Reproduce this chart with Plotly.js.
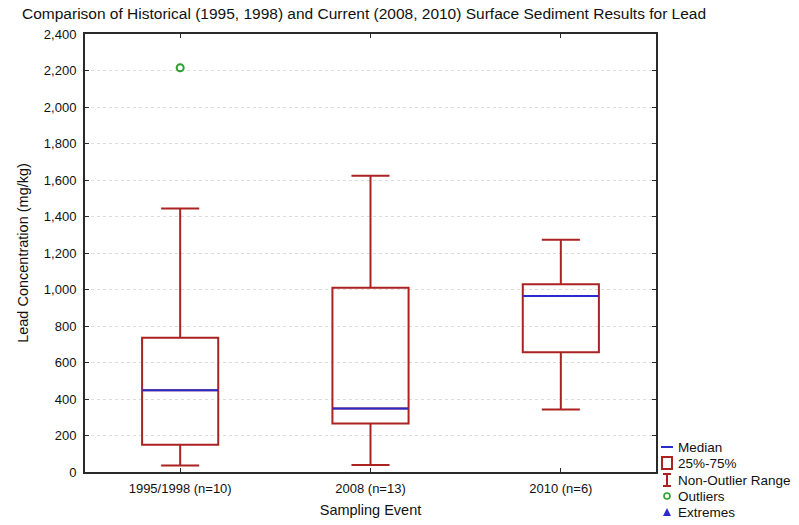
<!DOCTYPE html>
<html><head><meta charset="utf-8">
<script src="https://cdn.plot.ly/plotly-3.0.1.min.js"></script>
<style>html,body{margin:0;padding:0;background:#fff}</style>
</head><body><div id="chart" style="width:799px;height:525px"></div>
<script>
const categories = ['1995/1998 (n=10)', '2008 (n=13)', '2010 (n=6)'];
const q1 = [150, 266, 656];
const median = [448, 348, 965];
const q3 = [735, 1009, 1029];
const lowerWhisker = [36, 39, 342];
const upperWhisker = [1444, 1623, 1272];
const outlierCats = ['1995/1998 (n=10)'];
const outlierValues = [2215];
const yTicks = [0, 200, 400, 600, 800, 1000, 1200, 1400, 1600, 1800, 2000, 2200, 2400];
const legendLabels = ['Median', '25%-75%', 'Non-Outlier Range', 'Outliers', 'Extremes'];

const red = '#ac2222';
const blue = '#2b2bcc';
const green = '#2ca02c';
const font = 'Liberation Sans, Arial, sans-serif';

const W = 799, H = 525, L = 85, R = 143, T = 34, B = 53;
const pw = W - L - R, ph = H - T - B;
const px = x => (x - L) / pw;
const py = y => (H - B - y) / ph;

const traces = [
  {type:'box', x:categories, q1:q1, median:median, q3:q3, lowerfence:lowerWhisker, upperfence:upperWhisker,
   width:0.4, whiskerwidth:0.5, line:{color:red, width:2}, fillcolor:'rgba(0,0,0,0)', showlegend:false, hoverinfo:'skip'},
  {type:'box', x:categories, q1:median, median:median, q3:median, lowerfence:median, upperfence:median,
   width:0.4, whiskerwidth:0, line:{color:blue, width:2}, fillcolor:'rgba(0,0,0,0)', showlegend:false, hoverinfo:'skip'},
  {type:'scatter', mode:'markers', x:outlierCats, y:outlierValues, marker:{symbol:'circle-open', color:green, size:7, line:{width:2}}, showlegend:false}
];

// legend glyphs (drawn in paper coordinates, outside plot area)
const legY = [447, 463, 480, 496, 512];
const sx = 667;
const shapes = [
  {type:'line', xref:'paper', yref:'paper', x0:px(661), x1:px(673), y0:py(legY[0]), y1:py(legY[0]), line:{color:blue, width:2}},
  {type:'rect', xref:'paper', yref:'paper', x0:px(662), x1:px(672), y0:py(legY[1]-6), y1:py(legY[1]+6), line:{color:red, width:2}, fillcolor:'rgba(0,0,0,0)'},
  {type:'path', xref:'paper', yref:'paper',
   path:`M${px(663)},${py(legY[2]-6)} L${px(671)},${py(legY[2]-6)} M${px(667)},${py(legY[2]-6)} L${px(667)},${py(legY[2]+6)} M${px(663)},${py(legY[2]+6)} L${px(671)},${py(legY[2]+6)}`,
   line:{color:red, width:2}},
  {type:'circle', xref:'paper', yref:'paper', x0:px(sx-3), x1:px(sx+3), y0:py(legY[3]-3), y1:py(legY[3]+3), line:{color:green, width:1.6}},
  {type:'path', xref:'paper', yref:'paper',
   path:`M${px(sx-4)},${py(legY[4]+4)} L${px(sx+4)},${py(legY[4]+4)} L${px(sx)},${py(legY[4]-4)} Z`,
   line:{color:blue, width:0}, fillcolor:blue}
];
const annotations = legendLabels.map((t, i) => ({
  text:t, xref:'paper', yref:'paper', x:px(676), y:py(legY[i]), xanchor:'left', yanchor:'middle',
  showarrow:false, font:{family:font, size:13.5, color:'#111'}
}));

const layout = {
  width:W, height:H,
  margin:{l:L, r:R, t:T, b:B},
  paper_bgcolor:'#fff', plot_bgcolor:'#fff',
  font:{family:font, size:12, color:'#111'},
  title:{text:'Comparison of Historical (1995, 1998) and Current (2008, 2010) Surface Sediment Results for Lead',
         x:22/W, xanchor:'left', xref:'container', y:1-14/H, yanchor:'middle', yref:'container',
         font:{family:font, size:15.5, color:'#111'}},
  xaxis:{type:'category', range:[-0.5, 2.5], showline:true, linecolor:'#2a2a2a', linewidth:2, mirror:'ticks',
         ticks:'inside', ticklen:4, tickcolor:'#2a2a2a', showgrid:false, zeroline:false,
         tickfont:{family:font, size:13, color:'#111'}, ticklabelstandoff:3,
         title:{text:'Sampling Event', font:{family:font, size:14.5, color:'#111'}, standoff:10}},
  yaxis:{range:[0, 2400], tickvals:yTicks, tickformat:',', showline:true, linecolor:'#2a2a2a', linewidth:2, mirror:'ticks',
         ticks:'inside', ticklen:4, tickcolor:'#2a2a2a', showgrid:true, gridcolor:'#dcdcdc', griddash:'dot', gridwidth:1, zeroline:false,
         tickfont:{family:font, size:13, color:'#111'}, ticklabelstandoff:4,
         title:{text:'Lead Concentration (mg/kg)', font:{family:font, size:14.5, color:'#111'}, standoff:12}},
  showlegend:false,
  shapes:shapes,
  annotations:annotations,
  boxmode:'overlay'
};

Plotly.newPlot('chart', traces, layout, {displayModeBar:false, staticPlot:true});
</script>
</body></html>
